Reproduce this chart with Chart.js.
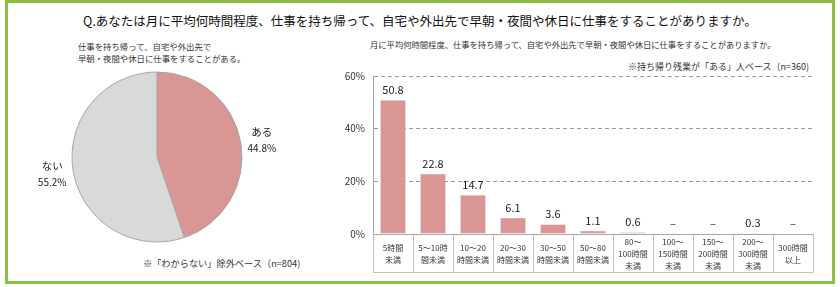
<!DOCTYPE html>
<html><head><meta charset="utf-8">
<script src="https://cdn.jsdelivr.net/npm/chart.js@4"></script>
<style>
html,body{margin:0;padding:0;background:#fff;}
body{width:840px;height:287px;position:relative;overflow:hidden;font-family:"Noto Sans CJK JP","Noto Sans",sans-serif;color:#222;}
#frame{position:absolute;left:5px;top:0px;width:824px;height:278px;border:3px solid #8CBF3F;}
.t{position:absolute;white-space:nowrap;line-height:1;}
canvas{position:absolute;}
</style></head><body>
<div id="frame"></div>
<div class="t" id="title" style="left:0;width:840px;text-align:center;top:15px;font-size:12.5px;color:#111;"></div>
<div class="t" id="pieSub" style="left:78px;top:40px;font-size:8.4px;line-height:12px;color:#333;"></div>
<div class="t" id="barSub" style="left:370px;top:40px;font-size:8.3px;color:#333;"></div>
<div class="t" id="barBase" style="right:31px;top:62px;font-size:9px;color:#333;"></div>
<div class="t" id="pieBase" style="left:143px;top:259px;font-size:9.2px;color:#333;"></div>
<canvas id="pie" width="314" height="200" style="left:0;top:57px;"></canvas>
<canvas id="bar" width="490" height="214" style="left:330px;top:60px;"></canvas>
<script>
const titleText = "Q.あなたは月に平均何時間程度、仕事を持ち帰って、自宅や外出先で早朝・夜間や休日に仕事をすることがありますか。";
const pieSubLines = ["仕事を持ち帰って、自宅や外出先で", "早朝・夜間や休日に仕事をすることがある。"];
const barSubText = "月に平均何時間程度、仕事を持ち帰って、自宅や外出先で早朝・夜間や休日に仕事をすることがありますか。";
const barBaseText = "※持ち帰り残業が「ある」人ベース（n=360)";
const pieBaseText = "※「わからない」除外ベース（n=804)";

const pieLabels = ["ある", "ない"];
const pieValues = [44.8, 55.2];

const categories = [
  ["5時間","未満"], ["5～10時","間未満"], ["10～20","時間未満"], ["20～30","時間未満"],
  ["30～50","時間未満"], ["50～80","時間未満"], ["80～","100時間","未満"],
  ["100～","150時間","未満"], ["150～","200時間","未満"], ["200～","300時間","未満"],
  ["300時間","以上"]
];
const barValues = [50.8, 22.8, 14.7, 6.1, 3.6, 1.1, 0.6, null, null, 0.3, null];
const yTicks = [0, 20, 40, 60];

document.getElementById('title').textContent = titleText;
document.getElementById('pieSub').innerHTML = pieSubLines.join('<br>');
document.getElementById('barSub').textContent = barSubText;
document.getElementById('barBase').textContent = barBaseText;
document.getElementById('pieBase').textContent = pieBaseText;

const FONT = '"Noto Sans CJK JP","Noto Sans",sans-serif';
Chart.defaults.font.family = FONT;
Chart.defaults.color = '#333';

const pieLabelPlugin = {
  id: 'pieLabels',
  afterDatasetsDraw(chart) {
    const ctx = chart.ctx;
    const meta = chart.getDatasetMeta(0);
    ctx.save();
    ctx.fillStyle = '#222';
    ctx.textAlign = 'center';
    ctx.textBaseline = 'middle';
    meta.data.forEach((arc, i) => {
      const a = (arc.startAngle + arc.endAngle) / 2;
      const r = arc.outerRadius * 1.25;
      const cx = arc.x + Math.cos(a) * r;
      const cy = arc.y + Math.sin(a) * r;
      ctx.font = '10.5px ' + FONT;
      ctx.fillText(pieLabels[i], cx, cy - 8);
      ctx.font = '10px ' + FONT;
      ctx.fillText(pieValues[i].toFixed(1) + '%', cx, cy + 8);
    });
    ctx.restore();
  }
};

new Chart(document.getElementById('pie'), {
  type: 'pie',
  data: { labels: pieLabels, datasets: [{ data: pieValues, backgroundColor: ['#D99694', '#D9D9D9'], borderColor: '#A6A6A6', borderWidth: 1 }] },
  options: {
    responsive: false, animation: false, devicePixelRatio: 1,
    radius: 85,
    layout: { padding: 0 },
    plugins: { legend: { display: false }, tooltip: { enabled: false } }
  },
  plugins: [pieLabelPlugin]
});

const TABLE_H = 38;
const barPlugin = {
  id: 'barExtras',
  afterDatasetsDraw(chart) {
    const ctx = chart.ctx;
    const x = chart.scales.x, y = chart.scales.y;
    const n = categories.length;
    const w = (x.right - x.left) / n;
    ctx.save();
    // value labels
    ctx.fillStyle = '#222';
    ctx.textAlign = 'center';
    ctx.textBaseline = 'bottom';
    ctx.font = '11px ' + FONT;
    barValues.forEach((v, i) => {
      const px = x.getPixelForValue(i);
      const py = y.getPixelForValue(v == null ? 0 : v);
      ctx.fillText(v == null ? '–' : v.toFixed(1), px, py - 5);
    });
    // table
    ctx.strokeStyle = '#BFBFBF';
    ctx.lineWidth = 1;
    const top = Math.round(y.bottom) + 0.5, bot = top + TABLE_H;
    ctx.beginPath();
    for (let i = 0; i <= n; i++) {
      const lx = Math.round(x.left + i * w) + 0.5;
      ctx.moveTo(lx, top); ctx.lineTo(lx, bot);
    }
    ctx.moveTo(x.left, bot); ctx.lineTo(x.right, bot);
    ctx.stroke();
    // category labels
    ctx.fillStyle = '#333';
    ctx.font = '8px ' + FONT;
    ctx.textBaseline = 'middle';
    const lh = 12;
    categories.forEach((lines, i) => {
      const px = x.getPixelForValue(i);
      const mid = top + TABLE_H / 2;
      const start = mid - (lines.length - 1) * lh / 2;
      lines.forEach((s, k) => ctx.fillText(s, px, start + k * lh));
    });
    ctx.restore();
  }
};

new Chart(document.getElementById('bar'), {
  type: 'bar',
  data: {
    labels: categories.map(c => c.join('')),
    datasets: [{ data: barValues, backgroundColor: '#D99694', borderColor: '#C98583', borderWidth: 0.5, barPercentage: 0.63, categoryPercentage: 1 }]
  },
  options: {
    responsive: false, animation: false, devicePixelRatio: 1,
    layout: { padding: { top: 16, right: 7, bottom: 2, left: 0 } },
    plugins: { legend: { display: false }, tooltip: { enabled: false } },
    scales: {
      x: {
        grid: { display: false },
        border: { display: true, color: '#A6A6A6' },
        ticks: { display: false },
        afterFit(s) { s.height = TABLE_H; }
      },
      y: {
        min: 0, max: 60,
        afterBuildTicks(s) { s.ticks = yTicks.map(v => ({ value: v })); },
        ticks: { padding: 8, font: { size: 10 }, color: '#333', callback: v => v + '%' },
        grid: { drawTicks: false, color: ctx => ctx.tick && ctx.tick.value === 0 ? 'rgba(0,0,0,0)' : '#999', lineWidth: 1 },
        border: { display: true, color: '#A6A6A6', dash: [4, 3] },
        afterFit(s) { s.width = 43; }
      }
    }
  },
  plugins: [barPlugin]
});
</script>
</body></html>
